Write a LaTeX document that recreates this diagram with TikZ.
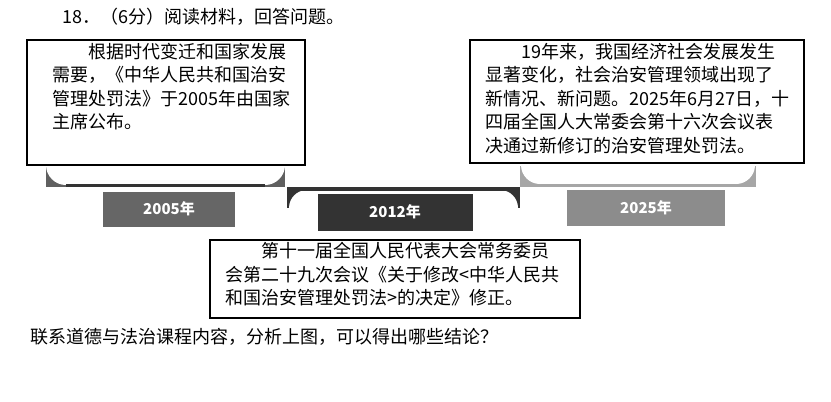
\documentclass[tikz,border=0pt]{standalone}
\usepackage{fontspec}
\newfontfamily\cjk{Noto Sans CJK SC}
\begin{document}
\begin{tikzpicture}[x=1pt,y=-1pt,
  txt/.style={anchor=north west,align=left,inner sep=0pt,font=\cjk\fontsize{18}{23.5}\selectfont},
  box/.style={draw=black,line width=1.6pt,fill=white},
  year/.style={text=white,font=\cjk\bfseries\fontsize{15}{15}\selectfont}]
\useasboundingbox (0,0) rectangle (831,402);
\fill[white] (0,0) rectangle (831,402);
\node[txt] (h) at (62,8) {18．（6分）阅读材料，回答问题。};
\node[txt] (f) at (30,328) {联系道德与法治课程内容，分析上图，可以得出哪些结论？};
% left bracket
\fill[gray!75!black] (46,165) rectangle (285,187);
\fill[white] (66,165) circle[radius=20];
\fill[white] (265,165) circle[radius=20];
\fill[white] (66,150) rectangle (265,184);
\fill[white] (40,150) rectangle (290,166);
\fill[black!80] (66,184) rectangle (265,187);
% middle bracket
\fill[black!80] (287,190) rectangle (307,208);
\fill[white] (307,208) circle[radius=18];
\fill[black!80] (500,190) rectangle (520,208);
\fill[white] (500,208) circle[radius=18];
\fill[black!80] (287,187) rectangle (520,191);
% right bracket
\fill[gray!70] (520,165) rectangle (756,187);
\fill[white] (540,165) circle[radius=19];
\fill[white] (736,165) circle[radius=19];
\fill[white] (540,163) rectangle (736,184);
\fill[white] (518,150) rectangle (758,166);
% year boxes
\node[fill=black!60,minimum width=132,minimum height=35,year] (y1) at (169,209) {2005年};
\node[fill=black!80,minimum width=155,minimum height=37,year] (y2) at (395,212) {2012年};
\node[fill=black!45,minimum width=158,minimum height=36,year] (y3) at (646,208) {2025年};
% text boxes
\draw[box] (27,40) rectangle (305,165);
\node[txt] (t1) at (52,43) {\hspace{2em}根据时代变迁和国家发展\\需要，《中华人民共和国治安\\管理处罚法》于2005年由国家\\主席公布。};
\draw[box] (470,40) rectangle (804,163);
\node[txt] (t2) at (485,43) {\hspace{2em}19年来，我国经济社会发展发生\\显著变化，社会治安管理领域出现了\\新情况、新问题。2025年6月27日，十\\四届全国人大常委会第十六次会议表\\决通过新修订的治安管理处罚法。};
\draw[box] (210,240) rectangle (580,318);
\node[txt] (t3) at (225,242) {\hspace{2em}第十一届全国人民代表大会常务委员\\会第二十九次会议《关于修改<中华人民共\\和国治安管理处罚法>的决定》修正。};
\end{tikzpicture}
\end{document}
